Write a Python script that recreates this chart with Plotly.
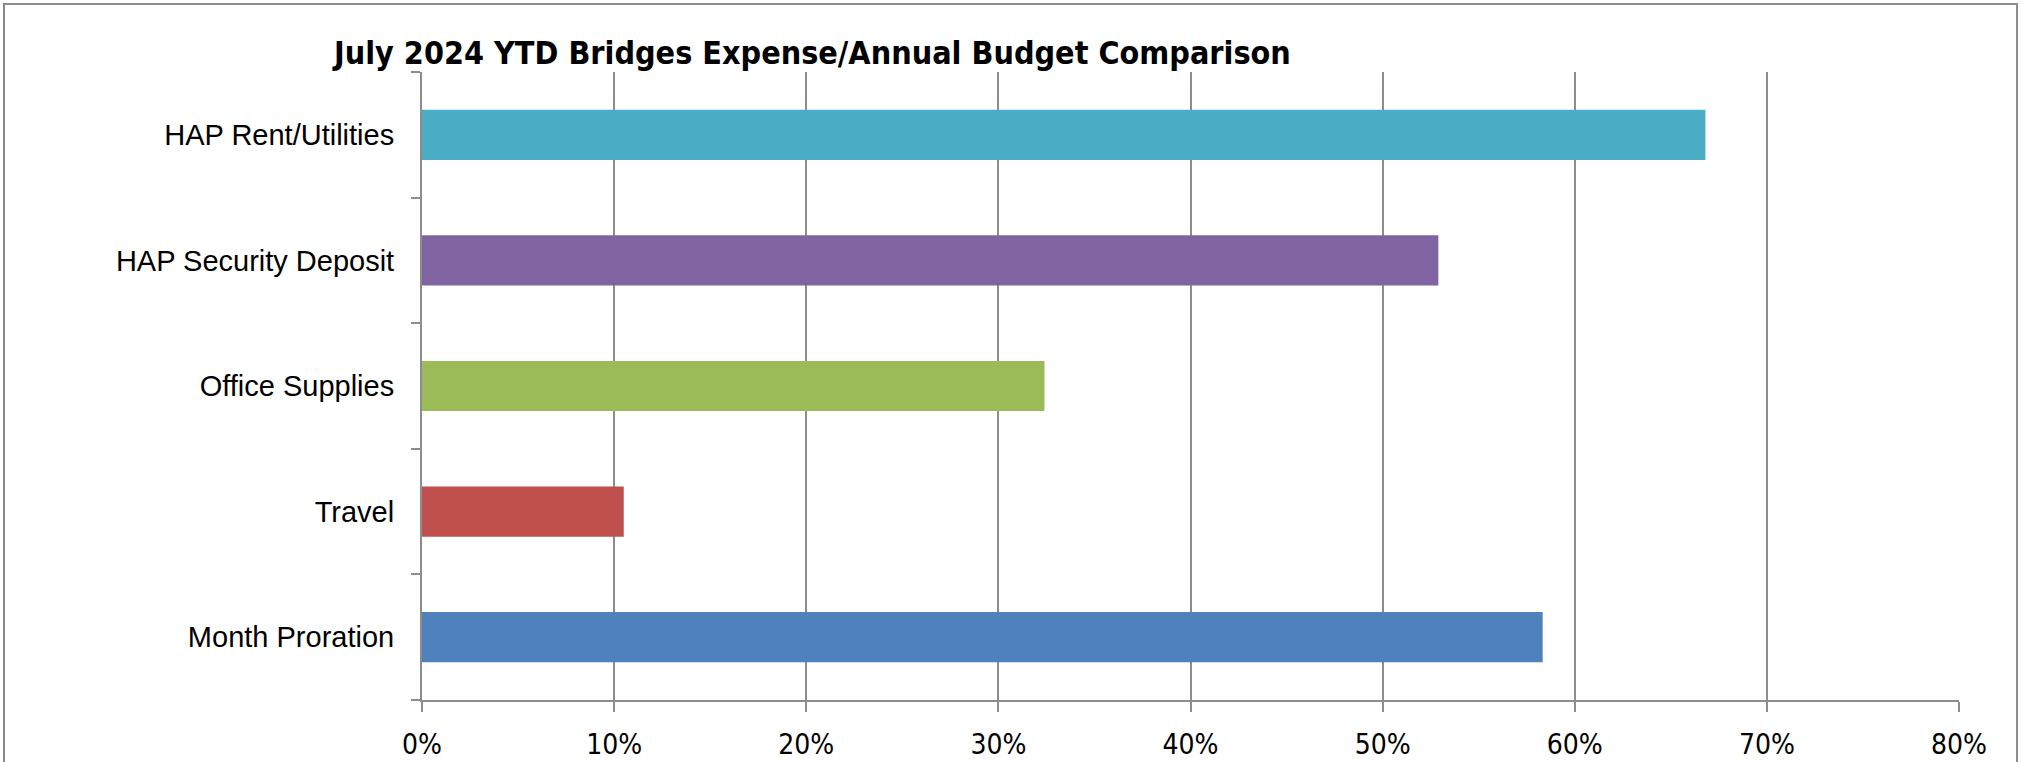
import plotly.graph_objects as go

# Budget categories, listed bottom-to-top as they appear on the axis
categories = [
    "Month Proration",
    "Travel",
    "Office Supplies",
    "HAP Security Deposit",
    "HAP Rent/Utilities",
]
# YTD expense as a share of the annual budget
pct_of_budget = [0.5833, 0.105, 0.324, 0.529, 0.668]
bar_colors = ["#4F81BD", "#C0504D", "#9BBB59", "#8064A2", "#4BACC6"]
x_ticks = [0, 0.1, 0.2, 0.3, 0.4, 0.5, 0.6, 0.7, 0.8]
x_tick_labels = ["0%", "10%", "20%", "30%", "40%", "50%", "60%", "70%", "80%"]

title_text = "July 2024 YTD Bridges Expense/Annual Budget Comparison"

W, H = 2021, 762
L, R, T, B = 422, 62, 72, 62
plot_w = W - L - R
plot_h = H - T - B


def px_x(px):
    return (px - L) / plot_w


def px_y(py):
    return (H - B - py) / plot_h


grid_color = "#8C8C8C"

fig = go.Figure(
    go.Bar(
        x=pct_of_budget,
        y=categories,
        orientation="h",
        marker=dict(color=bar_colors, line=dict(width=0)),
        hoverinfo="x+y",
    )
)

fig.update_layout(
    width=W,
    height=H,
    margin=dict(l=L, r=R, t=T, b=B, pad=0, autoexpand=False),
    paper_bgcolor="white",
    plot_bgcolor="white",
    bargap=0.6,
    showlegend=False,
    font=dict(family="Liberation Sans, Arial, sans-serif", color="black"),
)

fig.update_xaxes(
    range=[0, 0.8],
    tickvals=x_ticks,
    ticktext=x_tick_labels,
    showgrid=True,
    gridcolor=grid_color,
    gridwidth=2,
    showline=True,
    linecolor=grid_color,
    linewidth=2,
    ticks="outside",
    ticklen=10,
    tickwidth=2,
    tickcolor=grid_color,
    tickfont=dict(family="DejaVu Sans Condensed, sans-serif", size=28, color="black"),
    ticklabelstandoff=8,
    zeroline=False,
    automargin=False,
    fixedrange=True,
)

fig.update_yaxes(
    type="category",
    categoryorder="array",
    categoryarray=categories,
    tickson="boundaries",
    ticks="outside",
    ticklen=9,
    tickwidth=2,
    tickcolor=grid_color,
    showline=True,
    linecolor=grid_color,
    linewidth=2,
    showgrid=False,
    tickfont=dict(family="Liberation Sans, Arial, sans-serif", size=29, color="black"),
    ticklabelstandoff=20,
    automargin=False,
    fixedrange=True,
)

# Chart title
fig.add_annotation(
    text="<b>" + title_text + "</b>",
    xref="paper",
    yref="paper",
    x=px_x(330),
    y=px_y(53),
    xanchor="left",
    yanchor="middle",
    showarrow=False,
    font=dict(family="DejaVu Sans Condensed, sans-serif", size=32, color="black"),
)

# Outer chart frame
fig.add_shape(
    type="rect",
    xref="paper",
    yref="paper",
    x0=px_x(4),
    x1=px_x(2017),
    y0=px_y(780),
    y1=px_y(4),
    line=dict(color="#8C8C8C", width=2),
    fillcolor="rgba(0,0,0,0)",
    layer="below",
)

fig.write_html("out.html")
